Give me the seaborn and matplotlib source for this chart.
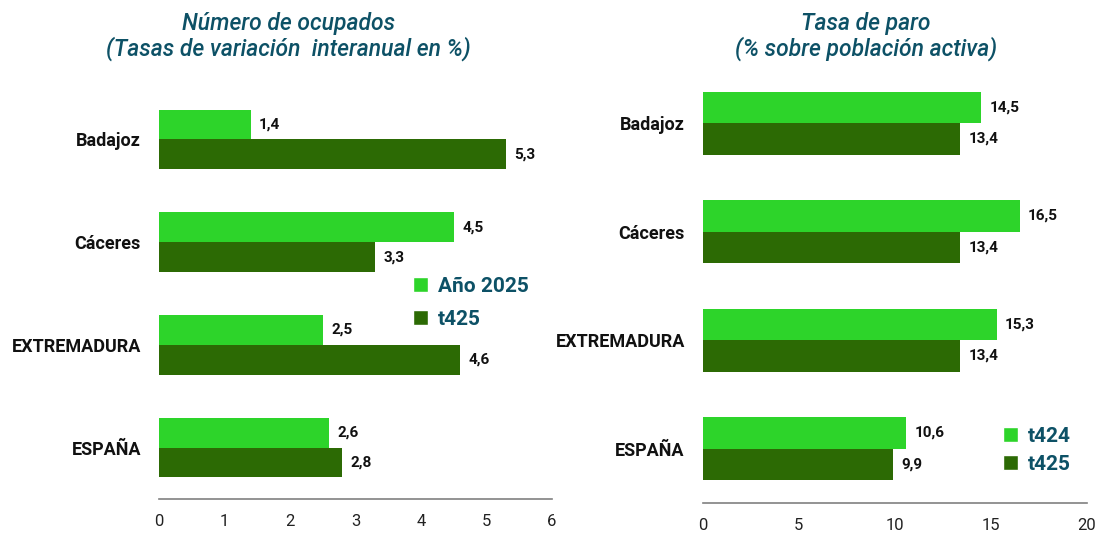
import matplotlib
matplotlib.use("Agg")
import matplotlib.pyplot as plt
import seaborn as sns
import pandas as pd
from matplotlib.patches import Patch

categories = ["Badajoz", "Cáceres", "EXTREMADURA", "ESPAÑA"]
left_series = ["Año 2025", "t425"]
left_ano2025 = [1.4, 4.5, 2.5, 2.6]
left_t425 = [5.3, 3.3, 4.6, 2.8]
right_series = ["t424", "t425"]
right_t424 = [14.5, 16.5, 15.3, 10.6]
right_t425 = [13.4, 13.4, 13.4, 9.9]
left_ticks = [0, 1, 2, 3, 4, 5, 6]
right_ticks = [0, 5, 10, 15, 20]

LIGHT = "#2DD42A"
DARK = "#2C6A04"
TEAL = "#0D5166"

sns.set_theme(style="white")
plt.rcParams["font.family"] = ["Roboto", "DejaVu Sans"]

fig = plt.figure(figsize=(11, 5.34), dpi=100)
axL = fig.add_axes([0.1445, 0.0655, 0.3573, 0.7695])
axR = fig.add_axes([0.639, 0.058, 0.349, 0.813])


def draw(ax, series, v1, v2, ticks, legend_pos, lspace):
    df = pd.DataFrame({
        "cat": categories * 2,
        "serie": [series[0]] * 4 + [series[1]] * 4,
        "val": list(v1) + list(v2),
    })
    sns.barplot(data=df, y="cat", x="val", hue="serie", orient="h",
                palette=[LIGHT, DARK], width=0.58, ax=ax, legend=False,
                saturation=1, edgecolor="none")
    for cont in ax.containers:
        vals = cont.datavalues
        ax.bar_label(cont, labels=[f"{v:.1f}".replace(".", ",") for v in vals],
                     padding=6, fontsize=11, fontweight="bold", color="#111111")
    ax.set_xlim(ticks[0], ticks[-1])
    ax.set_ylim(3.5, -0.5)
    ax.set_xticks(ticks)
    ax.set_xticklabels([str(t) for t in ticks], fontsize=12, color="#222222")
    ax.tick_params(axis="x", length=0, pad=11)
    ax.tick_params(axis="y", length=0, pad=13)
    for lab in ax.get_yticklabels():
        lab.set_fontweight("bold")
        lab.set_fontsize(13)
        lab.set_color("#111111")
    ax.set_xlabel("")
    ax.set_ylabel("")
    for s in ["top", "right", "left"]:
        ax.spines[s].set_visible(False)
    ax.spines["bottom"].set_color("#808080")
    ax.spines["bottom"].set_linewidth(1.2)
    handles = [Patch(facecolor=LIGHT, label=series[0]),
               Patch(facecolor=DARK, label=series[1])]
    leg = ax.legend(handles=handles, loc="upper left", bbox_to_anchor=legend_pos,
                    frameon=False, fontsize=15, handlelength=0.75, handleheight=0.75,
                    handletextpad=0.45, labelspacing=lspace, borderaxespad=0,
                    borderpad=0)
    for t in leg.get_texts():
        t.set_color(TEAL)
        t.set_fontweight("bold")
    return ax


draw(axL, left_series, left_ano2025, left_t425, left_ticks, (0.646, 0.54), 0.65)
draw(axR, right_series, right_t424, right_t425, right_ticks, (0.781, 0.175), 0.42)

fig.text(0.262, 0.978, "Número de ocupados\n(Tasas de variación  interanual en %)",
         ha="center", va="top", fontsize=16.5, style="italic", color=TEAL,
         fontweight="medium", linespacing=1.1)
fig.text(0.787, 0.978, "Tasa de paro\n(% sobre población activa)",
         ha="center", va="top", fontsize=16.5, style="italic", color=TEAL,
         fontweight="medium", linespacing=1.1)

fig.savefig("out.png", dpi=100, facecolor="white")
